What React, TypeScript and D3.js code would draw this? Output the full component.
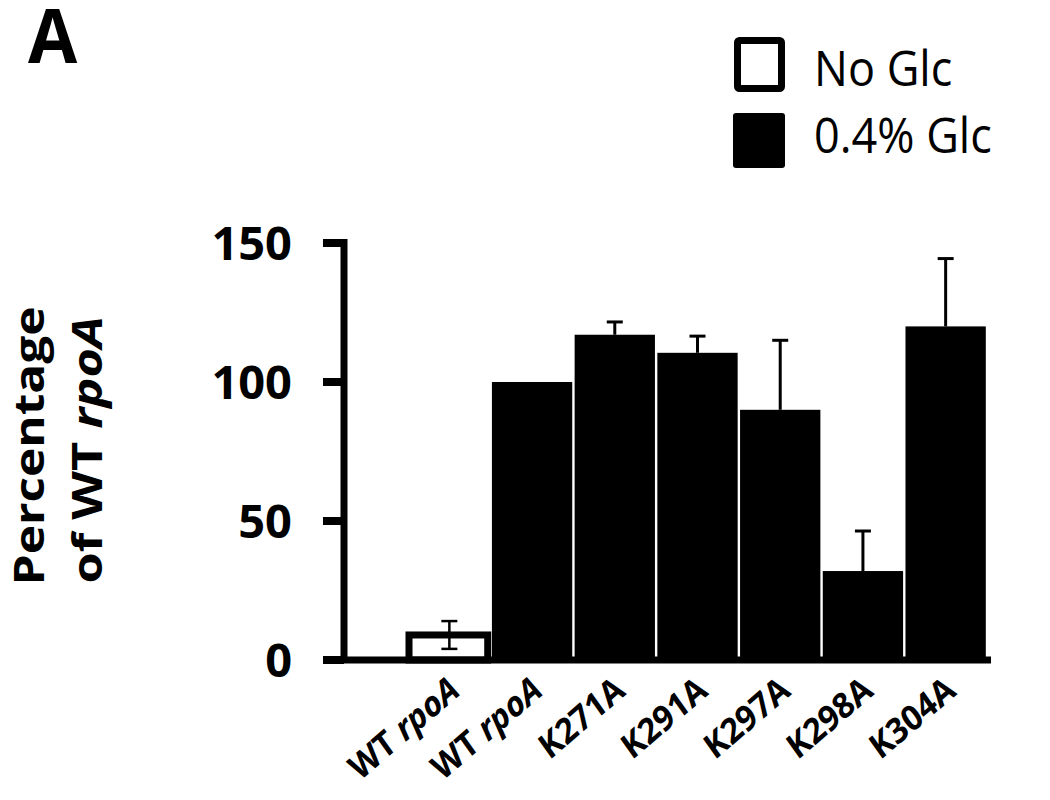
import React from "react";
import * as d3 from "d3";

const categories = ["WT rpoA", "WT rpoA", "K271A", "K291A", "K297A", "K298A", "K304A"];
const conditions = ["No Glc", "0.4% Glc", "0.4% Glc", "0.4% Glc", "0.4% Glc", "0.4% Glc", "0.4% Glc"];
const values = [9, 100, 117, 110.5, 90, 32, 120];
const errors = [5, 0, 4.6, 6, 25, 14.4, 24.4];
const yTicks = [0, 50, 100, 150];
const legendItems = ["No Glc", "0.4% Glc"];

const W = 1050;
const H = 800;
const FONT = "'Open Sans', 'Liberation Sans', sans-serif";

export default function App() {
  const keys = categories.map((_, i) => String(i));
  const x = d3.scaleBand<string>().domain(keys).range([408, 987]).paddingInner(0).paddingOuter(0);
  const y = d3.scaleLinear().domain([0, 150]).range([660, 243]);
  const bw = x.bandwidth();
  const axisX = 344;

  const renderLabel = (label: string) => {
    if (label.startsWith("WT ")) {
      return (
        <>
          <tspan>WT </tspan>
          <tspan fontStyle="italic">{label.slice(3)}</tspan>
        </>
      );
    }
    return label;
  };

  return (
    <svg width={W} height={H} style={{ display: "block", position: "absolute", left: 0, top: 0, background: "#fff" }}>
      {/* panel letter */}
      <g transform="translate(28,63) scale(1.05,1.12)">
        <text x={0} y={0} fontFamily={FONT} fontWeight={700} fontSize={68} fill="#000">A</text>
      </g>

      {/* legend */}
      {legendItems.map((item, i) => (
        <g key={item}>
          {i === 0 ? (
            <rect x={737.5} y={40.5} width={44} height={48} rx={2} fill="#fff" stroke="#000" strokeWidth={7} />
          ) : (
            <rect x={733} y={113} width={52} height={55} rx={3} fill="#000" />
          )}
          <g transform={`translate(814,${86 + i * 67}) scale(1,1.08)`}>
            <text x={0} y={0} fontFamily={FONT} fontSize={45} fill="#000">{item}</text>
          </g>
        </g>
      ))}

      {/* y axis label */}
      <g transform="translate(44,446) rotate(-90) scale(1.18,1)">
        <text textAnchor="middle" fontFamily={FONT} fontWeight={700} fontSize={42} fill="#000">Percentage</text>
      </g>
      <g transform="translate(102,450) rotate(-90) scale(1.2,1)">
        <text textAnchor="middle" fontFamily={FONT} fontWeight={700} fontSize={42} fill="#000">
          <tspan>of WT </tspan>
          <tspan fontStyle="italic">rpoA</tspan>
        </text>
      </g>

      {/* bars */}
      {values.map((v, i) => {
        const x0 = x(String(i))!;
        const isOpen = conditions[i] === "No Glc";
        if (isOpen) {
          return (
            <rect key={i} x={x0 + 1} y={y(v)} width={bw - 4} height={y(0) - y(v)} fill="#fff" stroke="#000" strokeWidth={7} />
          );
        }
        return <rect key={i} x={x0 + 1.2} y={y(v)} width={bw - 2.4} height={y(0) - y(v)} fill="#000" />;
      })}

      {/* error bars */}
      {values.map((v, i) => {
        const e = errors[i];
        if (!e) return null;
        const cx = x(String(i))! + bw / 2;
        const isOpen = conditions[i] === "No Glc";
        const lo = isOpen ? v - e : v;
        const stroke = isOpen ? 2.5 : 3;
        return (
          <g key={"e" + i} stroke="#000" strokeWidth={stroke}>
            <line x1={cx} x2={cx} y1={y(lo)} y2={y(v + e)} />
            <line x1={cx - 8} x2={cx + 8} y1={y(v + e)} y2={y(v + e)} />
            {isOpen && <line x1={cx - 8} x2={cx + 8} y1={y(lo)} y2={y(lo)} />}
          </g>
        );
      })}

      {/* axes */}
      <line x1={axisX} x2={axisX} y1={y(150) - 4} y2={y(0)} stroke="#000" strokeWidth={7} />
      {yTicks.map((t) => (
        <g key={t}>
          <line x1={323} x2={axisX} y1={y(t)} y2={y(t)} stroke="#000" strokeWidth={8} />
          <text x={292} y={y(t)} dy="0.36em" textAnchor="end" fontFamily={FONT} fontWeight={700} fontSize={47} fill="#000">{t}</text>
        </g>
      ))}
      <line x1={323} x2={991} y1={y(0)} y2={y(0)} stroke="#000" strokeWidth={7} />

      {/* x labels */}
      {categories.map((c, i) => {
        const cx = x(String(i))! + bw / 2 + 12;
        return (
          <g key={"l" + i} transform={`translate(${cx},694) scale(1,1.1) rotate(-38)`}>
            <text
              x={0}
              y={0}
              textAnchor="end"
              fontFamily={FONT}
              fontWeight={700}
              fontSize={32}
              fill="#000"
            >
              {renderLabel(c)}
            </text>
          </g>
        );
      })}
    </svg>
  );
}
